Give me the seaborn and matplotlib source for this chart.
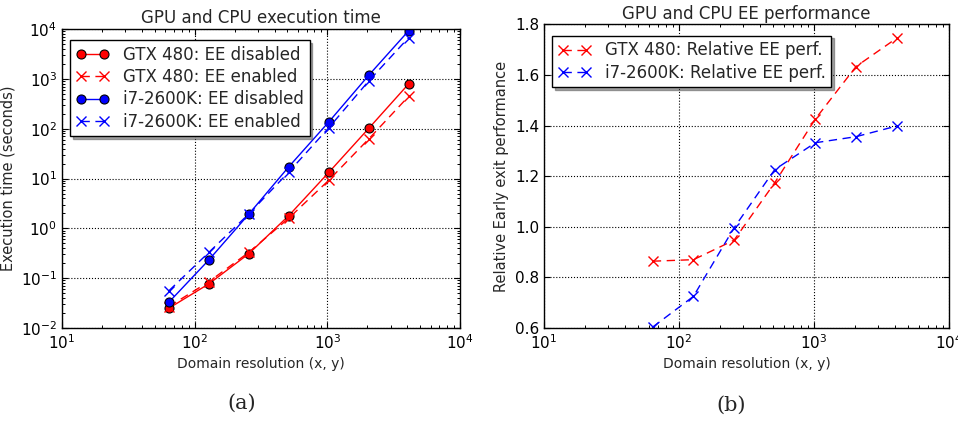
import matplotlib
matplotlib.use("Agg")
import matplotlib.pyplot as plt
import pandas as pd
import seaborn as sns
from matplotlib.ticker import LogLocator, NullLocator

resolution = [64, 128, 256, 512, 1024, 2048, 4096]

gtx_ee_disabled = [0.025, 0.077, 0.31, 1.8, 13.2, 101, 790]
gtx_ee_enabled = [0.027, 0.085, 0.33, 1.6, 9.2, 62, 445]
i7_ee_disabled = [0.033, 0.233, 1.93, 17.2, 136, 1175, 9200]
i7_ee_enabled = [0.056, 0.33, 1.95, 13.5, 104, 903, 6700]

gtx_rel_perf = [0.864, 0.870, 0.947, 1.174, 1.426, 1.633, 1.745]
i7_rel_perf = [0.604, 0.725, 0.996, 1.226, 1.332, 1.356, 1.398]

sns.set_style("ticks")
plt.rcParams.update({
    "font.family": ["DejaVu Sans"],
    "xtick.direction": "in",
    "ytick.direction": "in",
    "xtick.top": True,
    "ytick.right": True,
    "axes.edgecolor": "black",
    "axes.linewidth": 1.0,
    "grid.color": "black",
    "grid.linestyle": ":",
    "grid.linewidth": 0.8,
    "xtick.color": "black",
    "ytick.color": "black",
    "xtick.labelsize": 11,
    "ytick.labelsize": 11,
})

fig = plt.figure(figsize=(9.58, 4.24), dpi=100)
ax1 = fig.add_axes([0.0647, 0.2264, 0.4155, 0.7052])
ax2 = fig.add_axes([0.5678, 0.2264, 0.4228, 0.7163])

exec_df = pd.DataFrame({
    "res": resolution * 4,
    "time": gtx_ee_disabled + gtx_ee_enabled + i7_ee_disabled + i7_ee_enabled,
    "series": (["GTX 480: EE disabled"] * 7 + ["GTX 480: EE enabled"] * 7
               + ["i7-2600K: EE disabled"] * 7 + ["i7-2600K: EE enabled"] * 7),
})

styles = {
    "GTX 480: EE disabled": dict(color="#ff0000", marker="o"),
    "GTX 480: EE enabled": dict(color="#ff0000", marker="x"),
    "i7-2600K: EE disabled": dict(color="#0000ff", marker="o"),
    "i7-2600K: EE enabled": dict(color="#0000ff", marker="x"),
}

for name, st in styles.items():
    sub = exec_df[exec_df["series"] == name]
    if st["marker"] == "o":
        kw = dict(markersize=6.5, markeredgecolor="black", markeredgewidth=0.8)
    else:
        kw = dict(markersize=7, markeredgewidth=1.0, markeredgecolor=st["color"], dashes=(6, 4))
    sns.lineplot(data=sub, x="res", y="time", ax=ax1, color=st["color"],
                 marker=st["marker"], linewidth=1.0, label=name, **kw)

ax1.set_xscale("log")
ax1.set_yscale("log")
ax1.set_xlim(10, 1e4)
ax1.set_ylim(1e-2, 1e4)
ax1.grid(True, which="major")
ax1.set_title("GPU and CPU execution time", fontsize=12, pad=4)
ax1.set_xlabel("Domain resolution (x, y)", fontsize=10)
ax1.set_ylabel("Execution time (seconds)", fontsize=10.5)
leg1 = ax1.legend(loc="upper left", fontsize=12, numpoints=2, fancybox=False, shadow=True,
                  framealpha=1, edgecolor="black", handlelength=2.0, borderpad=0.35,
                  labelspacing=0.25, bbox_to_anchor=(0.0, 0.99))
leg1.get_frame().set_linewidth(1.0)

rel_df = pd.DataFrame({
    "res": resolution * 2,
    "perf": gtx_rel_perf + i7_rel_perf,
    "series": ["GTX 480: Relative EE perf."] * 7 + ["i7-2600K: Relative EE perf."] * 7,
})
for name, col in [("GTX 480: Relative EE perf.", "#ff0000"), ("i7-2600K: Relative EE perf.", "#0000ff")]:
    sub = rel_df[rel_df["series"] == name]
    sns.lineplot(data=sub, x="res", y="perf", ax=ax2, color=col, dashes=(6, 4), marker="x",
                 markersize=7, markeredgewidth=1.0, markeredgecolor=col, linewidth=1.0, label=name)

ax2.set_xscale("log")
ax2.set_xlim(10, 1e4)
ax2.set_ylim(0.6, 1.8)
ax2.set_yticks([0.6, 0.8, 1.0, 1.2, 1.4, 1.6, 1.8])
ax2.grid(True, which="major")
ax2.set_title("GPU and CPU EE performance", fontsize=12, pad=4)
ax2.set_xlabel("Domain resolution (x, y)", fontsize=10)
ax2.set_ylabel("Relative Early exit performance", fontsize=10.5)
leg2 = ax2.legend(loc="upper left", fontsize=12, numpoints=2, fancybox=False, shadow=True,
                  framealpha=1, edgecolor="black", handlelength=2.0, borderpad=0.35,
                  labelspacing=0.25, bbox_to_anchor=(0.0, 0.99))
leg2.get_frame().set_linewidth(1.0)

subs = [2, 3, 4, 5, 6, 7, 8, 9]
ax1.xaxis.set_minor_locator(LogLocator(base=10, subs=subs, numticks=20))
ax1.yaxis.set_minor_locator(LogLocator(base=10, subs=subs, numticks=20))
ax2.xaxis.set_minor_locator(LogLocator(base=10, subs=subs, numticks=20))
ax2.yaxis.set_minor_locator(NullLocator())

for ax in (ax1, ax2):
    ax.tick_params(which="major", direction="in", length=4.5, width=0.8, top=True, right=True)
    ax.tick_params(which="minor", direction="in", length=2.5, width=0.7, top=True, right=True)

fig.text(0.252, 0.05, "(a)", fontsize=15, family=["DejaVu Serif"], ha="center", va="center")
fig.text(0.763, 0.045, "(b)", fontsize=15, family=["DejaVu Serif"], ha="center", va="center")

fig.savefig("out.png", dpi=100)
